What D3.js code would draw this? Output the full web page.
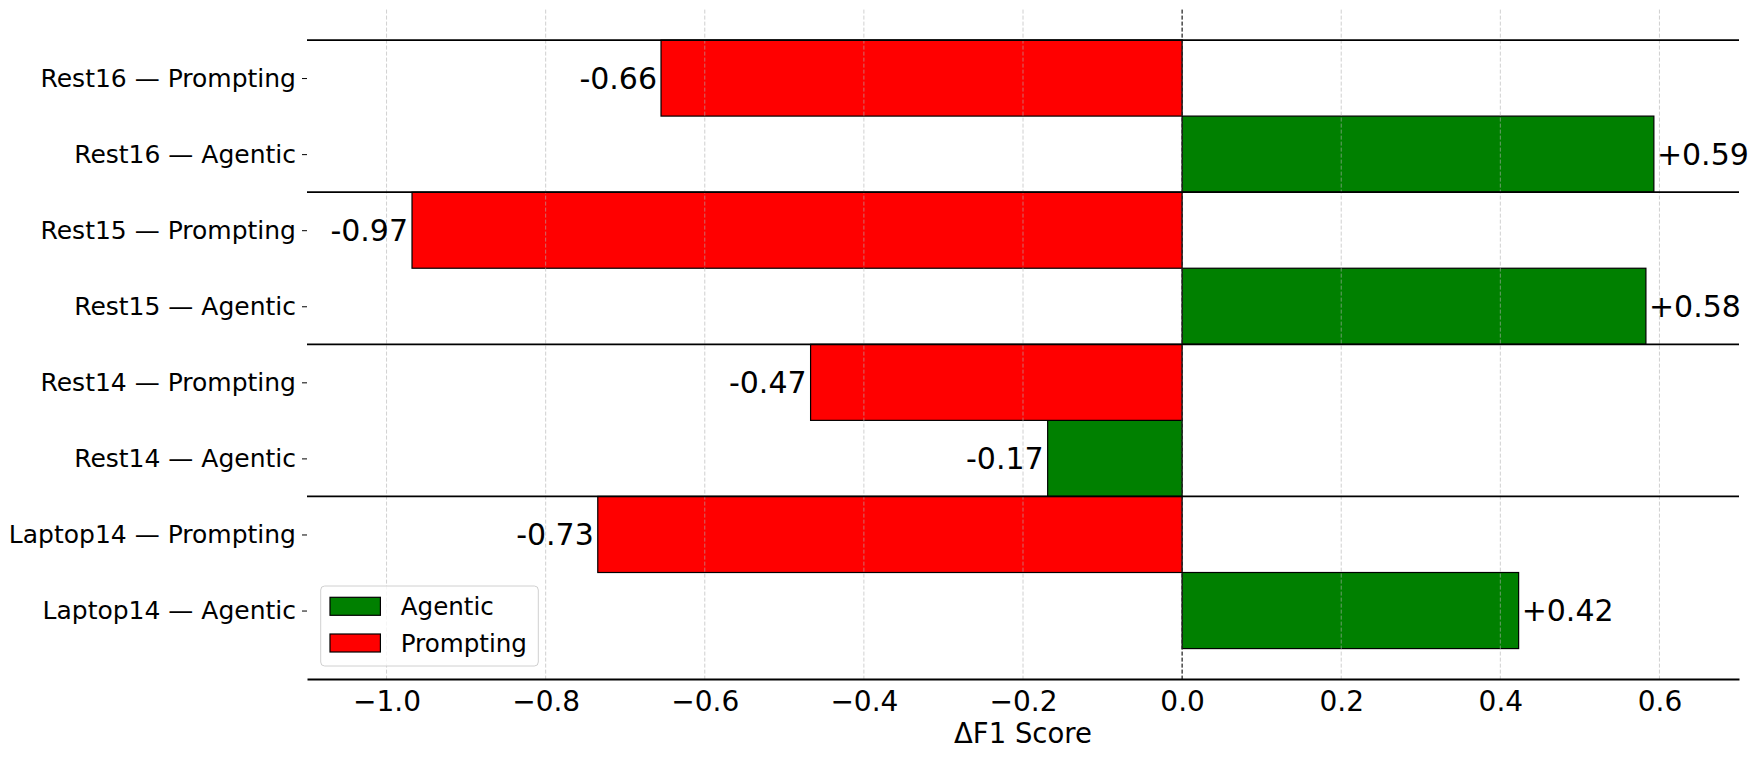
<html lang="en">
<head>
    <meta charset="UTF-8">
    <title>Delta F1 by dataset</title>
    <script src="https://d3js.org/d3.v7.min.js"></script>
    <style>
        body { margin: 0; background: #fff; }
        text { font-family: "DejaVu Sans", sans-serif; fill: #000; }
    </style>
</head>
<body>
    <script>
        // Data
        const datasets = ["Laptop14", "Rest14", "Rest15", "Rest16"];
        const methods = ["Agentic", "Prompting"];
        const agenticDelta = [0.423, -0.169, 0.583, 0.593];
        const promptingDelta = [-0.7345, -0.467, -0.968, -0.655];
        const xTicks = [-1.0, -0.8, -0.6, -0.4, -0.2, 0.0, 0.2, 0.4, 0.6];
        const colors = { Agentic: "#008000", Prompting: "#ff0000" };

        // Rows bottom-to-top, like matplotlib barh
        const rows = [];
        datasets.forEach((ds, i) => {
            rows.push({ label: `${ds} — Agentic`, method: "Agentic", value: agenticDelta[i] });
            rows.push({ label: `${ds} — Prompting`, method: "Prompting", value: promptingDelta[i] });
        });

        const w = 1757;
        const h = 760;
        const plotLeft = 307, plotRight = 1739, plotTop = 9.6, plotBottom = 679;

        const svg = d3.select("body").append("svg")
            .attr("width", w)
            .attr("height", h);

        const x = d3.scaleLinear().domain([-1.1, 0.7]).range([plotLeft, plotRight]);
        const y = d3.scaleLinear().domain([-0.9, rows.length - 0.1]).range([plotBottom, plotTop]);

        // Bars
        svg.append("g")
            .selectAll("rect")
            .data(rows)
            .join("rect")
            .attr("x", d => x(Math.min(0, d.value)))
            .attr("y", (d, i) => y(i + 0.5))
            .attr("width", d => Math.abs(x(d.value) - x(0)))
            .attr("height", (d, i) => y(i - 0.5) - y(i + 0.5))
            .attr("fill", d => colors[d.method])
            .attr("stroke", "#000")
            .attr("stroke-width", 1.2);

        // Grid (drawn over the bars, as in the original)
        svg.append("g")
            .selectAll("line")
            .data(xTicks)
            .join("line")
            .attr("x1", d => x(d)).attr("x2", d => x(d))
            .attr("y1", plotTop).attr("y2", plotBottom)
            .attr("stroke", "#b0b0b0")
            .attr("stroke-opacity", 0.6)
            .attr("stroke-width", 1)
            .attr("stroke-dasharray", "4,2");

        // Zero line
        svg.append("line")
            .attr("x1", x(0)).attr("x2", x(0))
            .attr("y1", plotTop).attr("y2", plotBottom)
            .attr("stroke", "#000")
            .attr("stroke-width", 1)
            .attr("stroke-dasharray", "4,2");

        // Group separators
        const seps = d3.range(1, rows.length, 2).map(i => i + 0.5);
        svg.append("g")
            .selectAll("line")
            .data(seps)
            .join("line")
            .attr("x1", plotLeft).attr("x2", plotRight)
            .attr("y1", d => y(d)).attr("y2", d => y(d))
            .attr("stroke", "#000")
            .attr("stroke-width", 1.8);

        // Value labels
        svg.append("g")
            .selectAll("text")
            .data(rows)
            .join("text")
            .attr("x", d => d.value < 0 ? x(d.value) - 4 : x(d.value) + 3)
            .attr("y", (d, i) => y(i))
            .attr("dy", "0.36em")
            .attr("text-anchor", d => d.value < 0 ? "end" : "start")
            .style("font-size", "30px")
            .text(d => d3.format("+.2f")(d.value).replace("−", "-"));

        // x axis
        const xAxis = d3.axisBottom(x)
            .tickValues(xTicks)
            .tickFormat(d3.format(".1f"))
            .tickSize(0)
            .tickPadding(12);
        const gx = svg.append("g")
            .attr("transform", `translate(0, ${plotBottom})`)
            .call(xAxis);
        gx.select(".domain").attr("stroke", "#000").attr("stroke-width", 1.8);
        gx.selectAll("text").style("font-size", "28px").attr("fill", "#000");

        svg.append("text")
            .attr("x", (plotLeft + plotRight) / 2)
            .attr("y", 743)
            .attr("text-anchor", "middle")
            .style("font-size", "27.5px")
            .text("ΔF1 Score");

        // y axis
        const yAxis = d3.axisLeft(y)
            .tickValues(d3.range(rows.length))
            .tickFormat(i => rows[i].label)
            .tickSize(5)
            .tickPadding(6);
        const gy = svg.append("g")
            .attr("transform", `translate(${plotLeft}, 0)`)
            .call(yAxis);
        gy.select(".domain").remove();
        gy.selectAll("line").attr("stroke", "#000").attr("stroke-width", 1);
        gy.selectAll("text").style("font-size", "25px").attr("fill", "#000");

        // Legend
        const legend = svg.append("g").attr("transform", "translate(320.7, 586)");
        legend.append("rect")
            .attr("width", 217.6)
            .attr("height", 80)
            .attr("rx", 4)
            .attr("fill", "#fff")
            .attr("fill-opacity", 0.8)
            .attr("stroke", "#d0d0d0")
            .attr("stroke-width", 1);
        methods.forEach((m, i) => {
            legend.append("rect")
                .attr("x", 9.3)
                .attr("y", 11.3 + i * 36.7)
                .attr("width", 50.4)
                .attr("height", 18)
                .attr("fill", colors[m])
                .attr("stroke", "#000")
                .attr("stroke-width", 1.2);
            legend.append("text")
                .attr("x", 80)
                .attr("y", 20.3 + i * 36.7)
                .attr("dy", "0.36em")
                .style("font-size", "24.6px")
                .text(m);
        });
    </script>
</body>
</html>
